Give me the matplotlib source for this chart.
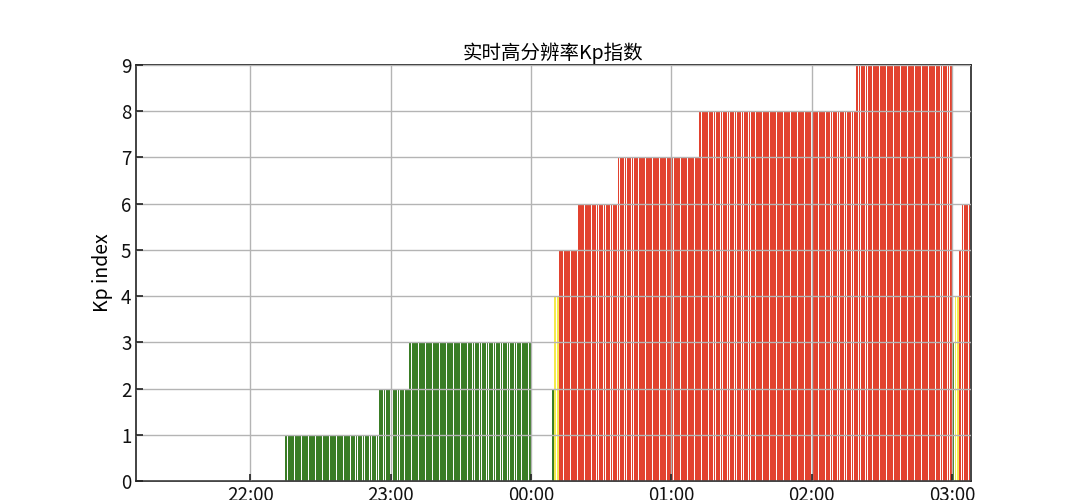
import numpy as np
import matplotlib
matplotlib.use("Agg")
import matplotlib.pyplot as plt
import matplotlib.dates as mdates
from datetime import datetime, timedelta

plt.rcParams["font.family"] = ["Noto Sans CJK SC", "DejaVu Sans"]

# Kp runs: each run is a block of one-minute bars
run_start = ["2024-05-10 22:15", "2024-05-10 22:55", "2024-05-10 23:08",
             "2024-05-11 00:09", "2024-05-11 00:10", "2024-05-11 00:12",
             "2024-05-11 00:20", "2024-05-11 00:37", "2024-05-11 01:12",
             "2024-05-11 02:19", "2024-05-11 03:00", "2024-05-11 03:01",
             "2024-05-11 03:03", "2024-05-11 03:04"]
run_end = ["2024-05-10 22:55", "2024-05-10 23:08", "2024-05-11 00:00",
           "2024-05-11 00:10", "2024-05-11 00:12", "2024-05-11 00:20",
           "2024-05-11 00:37", "2024-05-11 01:12", "2024-05-11 02:19",
           "2024-05-11 03:00", "2024-05-11 03:01", "2024-05-11 03:03",
           "2024-05-11 03:04", "2024-05-11 03:08"]
run_kp = [1, 2, 3, 2, 4, 5, 6, 7, 8, 9, 3, 4, 5, 6]

x_start = "2024-05-10 21:11"
x_end = "2024-05-11 03:08"

fmt = "%Y-%m-%d %H:%M"
times, kps = [], []
for s, e, k in zip(run_start, run_end, run_kp):
    t = datetime.strptime(s, fmt)
    t_end = datetime.strptime(e, fmt)
    while t < t_end:
        times.append(t)
        kps.append(k)
        t += timedelta(minutes=1)
kps = np.array(kps)


def kp_color(k):
    if k < 4:
        return "#3a7d26"
    if k == 4:
        return "#f3ea4c"
    return "#e2422f"


colors = [kp_color(k) for k in kps]

fig = plt.figure(figsize=(10.8, 5.0), dpi=100)
ax = fig.add_axes([0.1255, 0.038, 0.7735, 0.832])

minute = 1.0 / (24 * 60)
ax.bar(times, kps, width=minute * 0.8, align="edge", color=colors,
       edgecolor="none", linewidth=0, zorder=1)

ax.set_xlim(datetime.strptime(x_start, fmt), datetime.strptime(x_end, fmt))
ax.set_ylim(0, 9)
ax.set_yticks(range(0, 10))
ax.xaxis.set_major_locator(mdates.HourLocator())
ax.xaxis.set_major_formatter(mdates.DateFormatter("%H:%M"))

ax.set_axisbelow(False)
ax.grid(True, color="#b4b4b4", linewidth=1.0)
ax.tick_params(direction="in", length=5, width=1.2, labelsize=13.5, colors="#222222",
               labelcolor="#111111", pad=3)
for spine in ax.spines.values():
    spine.set_color("#222222")
    spine.set_linewidth(1.2)

ax.set_ylabel("Kp index", fontsize=14, labelpad=6)
ax.set_title("实时高分辨率Kp指数", fontsize=14, pad=4)

plt.savefig("out.png", dpi=100)
plt.close(fig)
